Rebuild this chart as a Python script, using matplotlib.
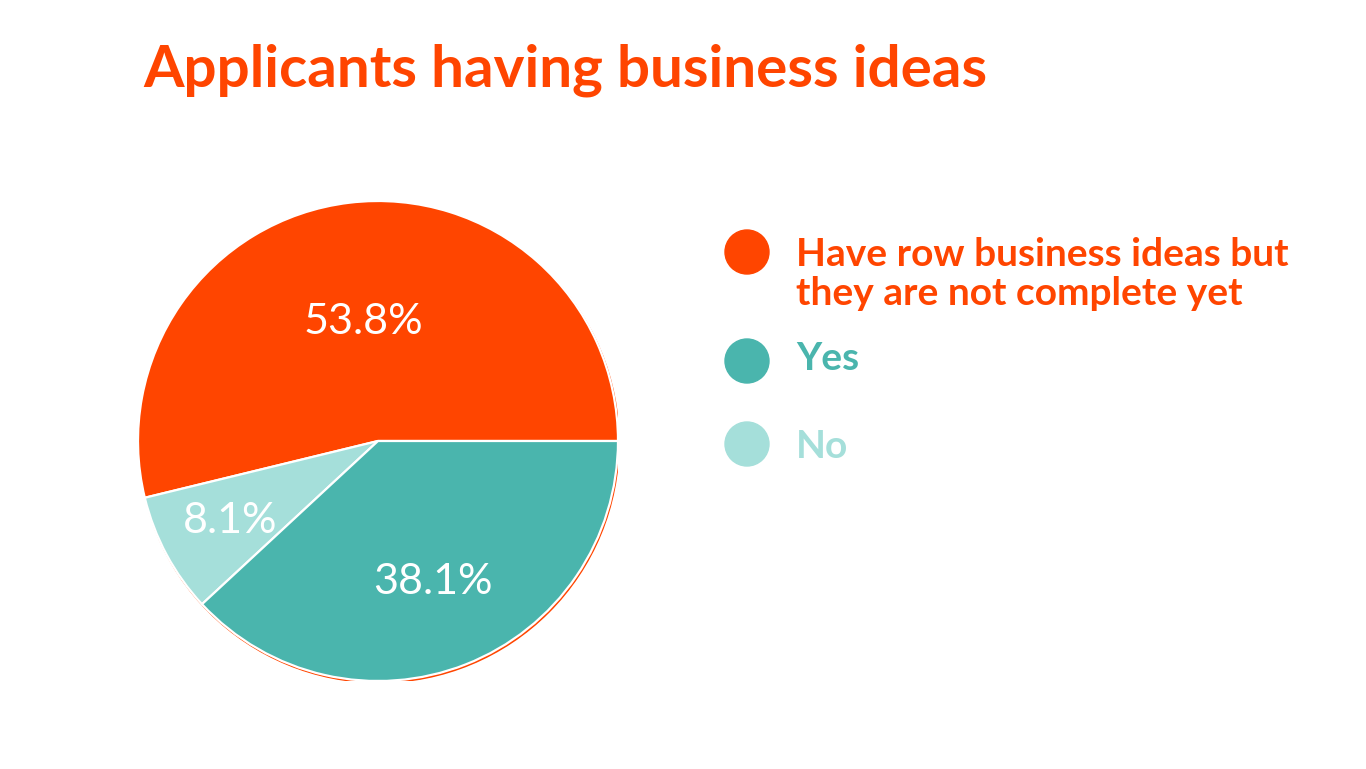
import numpy as np
import matplotlib
matplotlib.use("Agg")
import matplotlib.pyplot as plt
from matplotlib.patches import Circle, Ellipse

# data
labels = ["Have row business ideas but\nthey are not complete yet", "No", "Yes"]
values = [53.8, 8.1, 38.1]
colors = ["#FF4500", "#A5DFDA", "#4AB5AD"]
legend_order = [0, 2, 1]
label_radius = [0.50, 0.70, 0.63]

TITLE = "Applicants having business ideas"
FONT = "Lato"

fig = plt.figure(figsize=(13.66, 7.69), dpi=100)
fig.patch.set_facecolor("white")

# pie axes: 480x480 px square, centred at (378, 441)
cx, cy, rad = 378, 441, 240
ax = fig.add_axes([(cx - rad) / 1366, (769 - cy - rad) / 769, 2 * rad / 1366, 2 * rad / 769])

# thin orange rim peeking out behind the slices
ax.add_patch(Circle((0.004, -0.007), 1.0, color=colors[0], zorder=0))

wedges, _ = ax.pie(values, colors=colors, startangle=0, counterclock=True, radius=1.0,
                   wedgeprops=dict(edgecolor="white", linewidth=1.6), frame=True)
ax.set_xlim(-1, 1)
ax.set_ylim(-1, 1)
ax.axis("off")

for w, v, r in zip(wedges, values, label_radius):
    mid = np.deg2rad((w.theta1 + w.theta2) / 2)
    ax.text(r * np.cos(mid), r * np.sin(mid), "{:.1f}%".format(v), color="white",
            fontsize=31, family=FONT, ha="center", va="center", zorder=5)

fig.text(143 / 1366, 1 - 70 / 769, TITLE, color=colors[0], fontsize=42, family=FONT,
         fontweight="bold", ha="left", va="center")

# legend
leg_y = [252, 361, 444]
text_y = [274, 358, 446]
for i, (idx, ly, ty) in enumerate(zip(legend_order, leg_y, text_y)):
    fig.patches.append(Ellipse((747 / 1366, 1 - ly / 769), 44 / 1366, 44 / 769,
                               transform=fig.transFigure, color=colors[idx]))
    fig.text(796 / 1366, 1 - ty / 769, labels[idx], color=colors[idx], fontsize=28,
             family=FONT, fontweight="bold", ha="left", va="center", linespacing=1.15)

fig.savefig("out.png", dpi=100)
